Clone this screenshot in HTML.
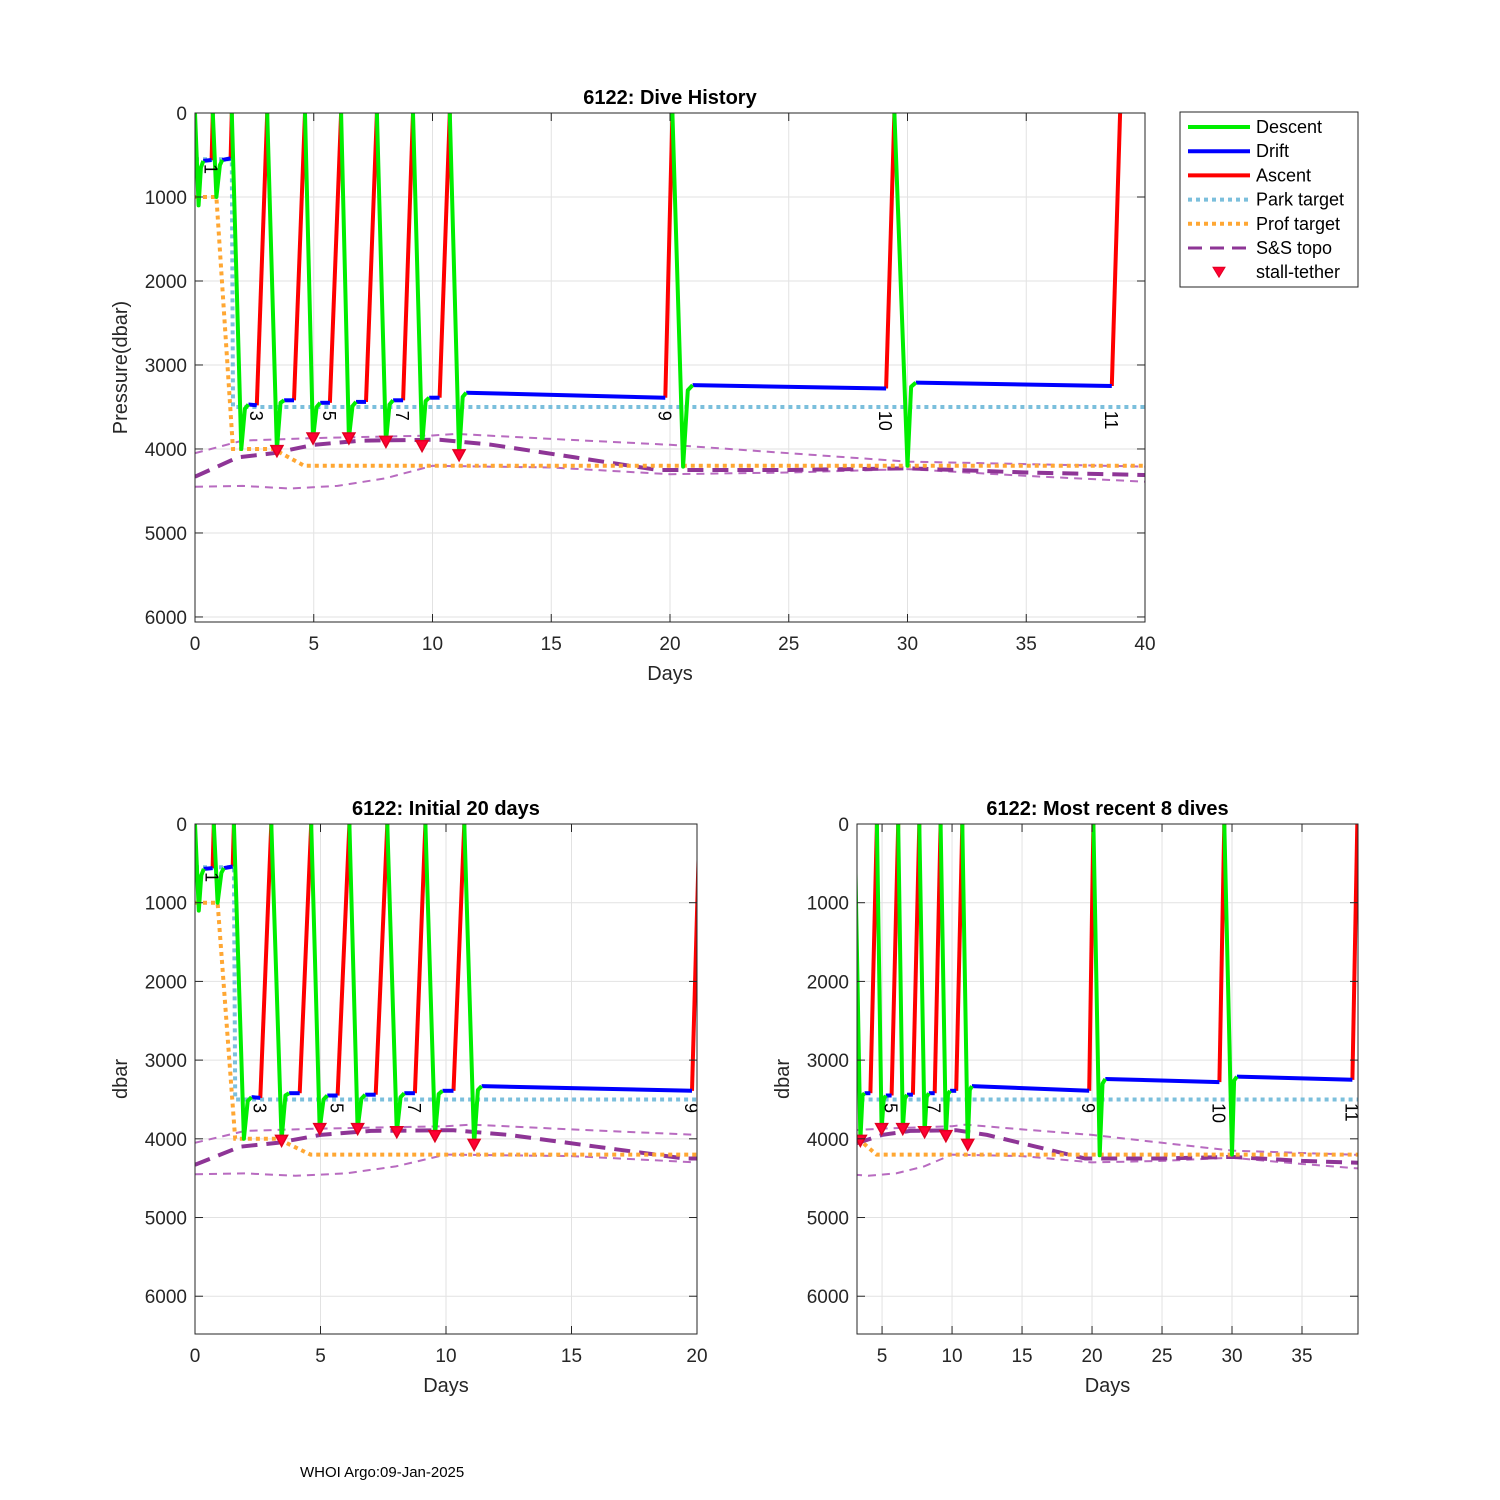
<!DOCTYPE html>
<html><head><meta charset="utf-8"><style>
body{margin:0;background:#fff;}
svg{display:block;font-family:"Liberation Sans",Arial,sans-serif;}
</style></head><body>
<svg id="fig" width="1500" height="1500" viewBox="0 0 1500 1500">
<rect x="0" y="0" width="1500" height="1500" fill="#fff"/>
<text x="300" y="1477" font-size="15">WHOI Argo:09-Jan-2025</text>
</svg>
<script>
// ---- data (days, dbar) ----
const descentT = [[0,0.15,0.25,0.35],[0.75,0.9,1.05,1.15],[1.55,1.95,2.1,2.25],[3.04,3.45,3.6,3.75],[4.63,4.97,5.12,5.27],[6.15,6.48,6.63,6.78],[7.66,8.04,8.19,8.34],[9.18,9.56,9.71,9.86],[10.73,11.12,11.27,11.42],[20.1,20.55,20.75,20.95],[29.45,30.0,30.15,30.35]];
const descentP = [[0,1100,650,570],[0,1000,620,560],[0,4000,3520,3470],[0,4010,3450,3420],[0,3880,3500,3450],[0,3870,3490,3440],[0,3920,3470,3420],[0,3950,3430,3390],[0,4070,3380,3330],[0,4210,3300,3240],[0,4200,3260,3210]];
const driftEndT = [0.7,1.5,2.6,4.17,5.68,7.2,8.76,10.3,19.8,29.1,38.6];
const driftEndP = [560,540,3480,3420,3450,3440,3420,3390,3390,3280,3250];
const ascentEndT = [0.75,1.55,3.04,4.63,6.15,7.66,9.18,10.73,20.1,29.45,38.95];
const diveLabels = ["1","","3","","5","","7","","9","10","11"];
const parkT = [0,1.55,1.6,40]; const parkP = [550,550,3500,3500];
const profT = [0,0.9,1.6,3.3,4.6,40]; const profP = [1000,1000,4000,4000,4200,4200];
const topoT = [0,1.8,3.3,5,7,10.3,12.5,16,19.5,25,30,35,40];
const topoP = [4330,4100,4050,3950,3900,3890,3950,4100,4250,4250,4230,4280,4310];
const topoHiT = [0,2,5,10,11,15,20,25,30,35,40];
const topoHiP = [4050,3900,3870,3840,3820,3880,3950,4050,4150,4180,4210];
const topoLoT = [0,2,4,6,8,10,15,20,25,30,35,40];
const topoLoP = [4450,4440,4470,4440,4350,4200,4220,4300,4280,4240,4320,4390];
const stallT = [3.45,4.97,6.48,8.04,9.56,11.12];
const stallP = [4020,3870,3870,3910,3960,4070];

const NS="http://www.w3.org/2000/svg";
const fig=document.getElementById('fig');
function mk(tag,attrs,parent){const e=document.createElementNS(NS,tag);for(const k in attrs)e.setAttribute(k,attrs[k]);(parent||fig).appendChild(e);return e;}

function drawAxes(cfg){
  const {id,x0,x1,y0,y1,xmin,xmax,ymax,xticks,yticks,title,ylabel,showLabels}=cfg;
  const X=t=>x0+(t-xmin)/(xmax-xmin)*(x1-x0);
  const Y=p=>y0+p/ymax*(y1-y0);
  const g=mk('g',{});
  
  
  const clip=mk('clipPath',{id:id+'-clip'},g);
  mk('rect',{x:x0,y:y0-3,width:x1-x0,height:y1-y0+3},clip);
  xticks.forEach(t=>{const l=mk('line',{x1:X(t),x2:X(t),y1:y0,y2:y1,stroke:'#e2e2e2','stroke-width':1},g);
    });
  yticks.forEach(p=>{const l=mk('line',{x1:x0,x2:x1,y1:Y(p),y2:Y(p),stroke:'#e2e2e2','stroke-width':1},g);
    });
  const pg=mk('g',{'clip-path':'url(#'+id+'-clip)'},g);
  
  
  const poly=(T,P,attrs,name)=>{const pts=T.map((t,i)=>X(t).toFixed(1)+','+Y(P[i]).toFixed(1)).join(' ');
    const e=mk('polyline',Object.assign({points:pts,fill:'none'},attrs),pg);
    return e;};
  poly(topoHiT,topoHiP,{stroke:'#b86bc0','stroke-width':2,'stroke-dasharray':'8,6'},'topo-upper-bound');
  poly(topoLoT,topoLoP,{stroke:'#b86bc0','stroke-width':2,'stroke-dasharray':'8,6'},'topo-lower-bound');
  poly(topoT,topoP,{stroke:'#8e3596','stroke-width':4,'stroke-dasharray':'16,9'},'ss-topo-line');
  poly(profT,profP,{stroke:'#ffa733','stroke-width':4,'stroke-dasharray':'4,4'},'prof-target-line');
  poly(parkT,parkP,{stroke:'#7bbfdc','stroke-width':4,'stroke-dasharray':'4,4'},'park-target-line');
  for(let i=0;i<descentT.length;i++){
    const dT=descentT[i],dP=descentP[i];
    const lastT=dT[dT.length-1], lastP=dP[dP.length-1];
    poly([driftEndT[i],ascentEndT[i]],[driftEndP[i],0],{stroke:'#ff0000','stroke-width':4},'ascent-dive-'+(i+1));
    poly([lastT,driftEndT[i]],[lastP,driftEndP[i]],{stroke:'#0000ff','stroke-width':4},'drift-dive-'+(i+1));
    poly(dT,dP,{stroke:'#00ee00','stroke-width':4,'stroke-linejoin':'round'},'descent-dive-'+(i+1));
  }
  stallT.forEach((t,i)=>{const x=X(t),y=Y(stallP[i]);
    const e=mk('polygon',{points:`${x-6},${y-5} ${x+6},${y-5} ${x},${y+6}`,fill:'#ff0033',stroke:'#e00020','stroke-width':1.5},pg);
    });
  if(showLabels){
    for(let i=0;i<diveLabels.length;i++){ if(!diveLabels[i])continue;
      const t=driftEndT[i];const x=X(t)-7;const y=i<2?Y(driftEndP[i])+4:Y(3545);
      const e=mk('text',{x:x,y:y,'font-size':18,transform:`rotate(90 ${x} ${y})`},pg);
      e.textContent=diveLabels[i];
      }
  }
  const b=mk('rect',{x:x0,y:y0,width:x1-x0,height:y1-y0,fill:'none',stroke:'#262626','stroke-width':1},g);
  
  xticks.forEach(t=>{mk('line',{x1:X(t),x2:X(t),y1:y1,y2:y1-8,stroke:'#262626'},g);mk('line',{x1:X(t),x2:X(t),y1:y0,y2:y0+8,stroke:'#262626'},g);
    const e=mk('text',{x:X(t),y:y1+28,'font-size':19,'text-anchor':'middle',fill:'#262626'},g);e.textContent=t;
    });
  yticks.forEach(p=>{mk('line',{x1:x0,x2:x0+8,y1:Y(p),y2:Y(p),stroke:'#262626'},g);mk('line',{x1:x1,x2:x1-8,y1:Y(p),y2:Y(p),stroke:'#262626'},g);
    const e=mk('text',{x:x0-8,y:Y(p)+7,'font-size':19,'text-anchor':'end',fill:'#262626'},g);e.textContent=p;
    });
  const tt=mk('text',{x:(x0+x1)/2,y:y0-9,'font-size':20,'font-weight':'bold','text-anchor':'middle'},g);tt.textContent=title;
  
  const xl=mk('text',{x:(x0+x1)/2,y:y1+58,'font-size':20,'text-anchor':'middle',fill:'#262626'},g);xl.textContent='Days';
  
  const yx=x0-68,yy=(y0+y1)/2;
  const yl=mk('text',{x:yx,y:yy,'font-size':20,'text-anchor':'middle',fill:'#262626',transform:`rotate(-90 ${yx} ${yy})`},g);yl.textContent=ylabel;
  
}
const yt=[0,1000,2000,3000,4000,5000,6000];
drawAxes({id:'history',x0:195,x1:1145,y0:113,y1:622,xmin:0,xmax:40,ymax:6060,xticks:[0,5,10,15,20,25,30,35,40],yticks:yt,title:'6122: Dive History',ylabel:'Pressure(dbar)',showLabels:true});
drawAxes({id:'initial',x0:195,x1:697,y0:824,y1:1334,xmin:0,xmax:20,ymax:6480,xticks:[0,5,10,15,20],yticks:yt,title:'6122: Initial 20 days',ylabel:'dbar',showLabels:true});
drawAxes({id:'recent',x0:857,x1:1358,y0:824,y1:1334,xmin:3.21,xmax:39,ymax:6480,xticks:[5,10,15,20,25,30,35],yticks:yt,title:'6122: Most recent 8 dives',ylabel:'dbar',showLabels:true});

const lg=mk('g',{});


mk('rect',{x:1180,y:112,width:178,height:175,fill:'#fff',stroke:'#262626','stroke-width':1},lg);
const legItems=[['Descent',{stroke:'#00ee00','stroke-width':4}],['Drift',{stroke:'#0000ff','stroke-width':4}],['Ascent',{stroke:'#ff0000','stroke-width':4}],['Park target',{stroke:'#7bbfdc','stroke-width':4,'stroke-dasharray':'4,4'}],['Prof target',{stroke:'#ffa733','stroke-width':4,'stroke-dasharray':'4,4'}],['S&S topo',{stroke:'#8e3596','stroke-width':3,'stroke-dasharray':'14,8'}],['stall-tether',null]];
legItems.forEach((it,i)=>{const y=127+i*24.2;
  const eg=mk('g',{},lg);
  
  
  if(it[1]) mk('line',Object.assign({x1:1188,x2:1250,y1:y,y2:y},it[1]),eg);
  else mk('polygon',{points:`1213,${y-5} 1225,${y-5} 1219,${y+5}`,fill:'#ff0033',stroke:'#e00020'},eg);
  const t=mk('text',{x:1256,y:y+6,'font-size':18},eg);t.textContent=it[0];});
</script>
</body></html>
